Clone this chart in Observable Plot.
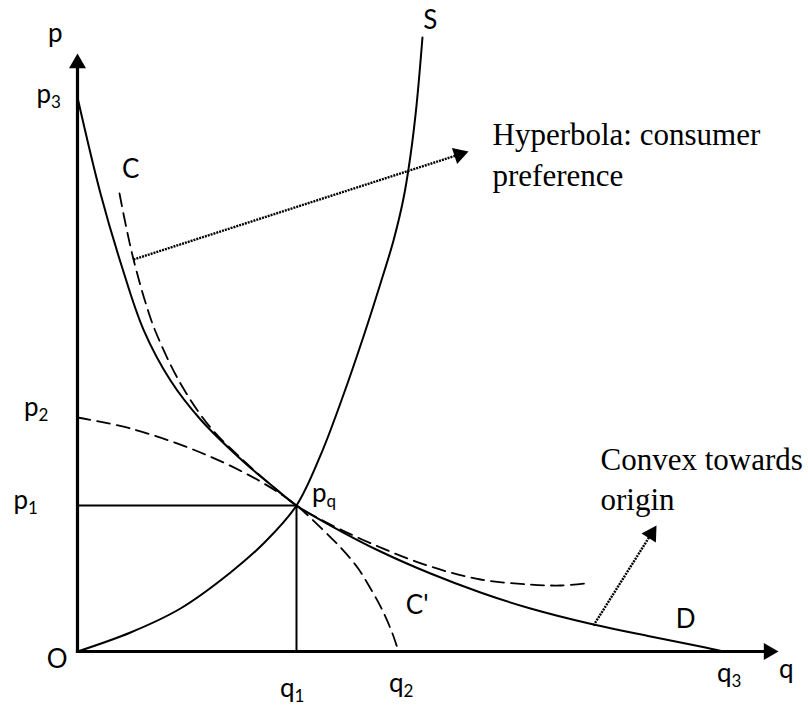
<!DOCTYPE html>
<html><head><meta charset="utf-8">
<script src="https://cdn.jsdelivr.net/npm/d3@7"></script>
<script src="https://cdn.jsdelivr.net/npm/@observablehq/plot@0.6"></script>
<style>body{margin:0;background:#fff}</style>
</head><body><div id="chart"></div>
<script>
// ---- data (q, p) in axis units: q and p both run 0..100 up to the arrow tips ----
const demandD = [[0,92.64],[3.28,76.59],[6.28,64.55],[9.41,53.84],[13.27,45.32],[17.55,38.8],[23.97,31.44],[27.53,27.93],[31.24,24.41],[36.09,21.07],[43.22,16.72],[50.36,13.04],[57.49,9.87],[64.62,7.19],[73.61,4.51],[81.74,2.51],[88.87,0.84],[92.15,0]];
const supplyS = [[0,0],[7.56,3.18],[14.69,7.19],[21.83,13.21],[26.82,18.39],[31.24,24.41],[34.66,32.78],[37.8,42.47],[40.94,53.18],[43.22,61.54],[45.08,68.73],[46.5,75.75],[47.5,82.94],[48.36,91.3],[49.21,102.67]];
const hyperbolaC = [[5.99,76.59],[6.99,70.73],[7.99,65.55],[9.7,58.36],[11.13,53.51],[14.69,44.82],[18.97,37.46],[23.97,31.61],[27.53,27.93],[31.24,24.41],[36.09,21.24],[43.22,17.39],[50.36,14.21],[57.49,12.04],[64.62,11.2],[68.9,11.04],[72.47,11.37]];
const curveC2 = [[0,39.13],[7.56,37.29],[17.55,33.28],[26.11,28.43],[31.24,24.41],[34.66,20.74],[37.52,17.39],[39.94,14.05],[41.8,10.54],[43.51,6.86],[44.93,3.01],[45.79,0]];
const equilibrium = [31.24, 24.41];            // (q1, p1)
const axisTips = [[100,0],[0,100]];           // q axis, p axis
const arrowStarts = [[7.99,65.55],[73.61,4.35]];
const arrowEnds = [[55.78,83.61],[82.60,21.07]];

const labelBase = ["p","p","p","p","p","q","q","q","q","O","C","S","C'","D"];
const labelSub  = ["","3","2","1","q","1","2","3","","","","","",""];
const labelQ = [-2.14,-3.78,-5.56,-7.06,35.52,30.96,46.50,93.29,102.14,-1.43,8.84,51.35,50.07,88.16];
const labelP = [101.84,91.80,39.46,23.75,25.08,-7.69,-6.69,-5.18,-4.35,-2.68,79.26,104.18,6.35,4.01];

const noteTexts = ["Hyperbola: consumer\npreference", "Convex towards\norigin"];
const noteQ = [59.20, 74.61];
const noteP = [77.92, 23.58];

// ---- layout ----
const W = 808, H = 706, mL = 77, mR = 30, mT = 53, mB = 55;
const kx = (W - mL - mR) / 100, ky = (H - mT - mB) / 100;
const headR = 6.3;
const headArea = Math.PI * headR * headR;
const headSide = Math.sqrt(4 * headArea / Math.sqrt(3));
const tipDist = (headSide * Math.sqrt(3) / 2) * 2 / 3;

function arrowHead(from, to) {
  const px = (to[0] - from[0]) * kx, py = -(to[1] - from[1]) * ky;
  const len = Math.hypot(px, py), ux = px / len, uy = py / len;
  return {
    q: to[0] - tipDist * ux / kx,
    p: to[1] + tipDist * uy / ky,
    angle: Math.atan2(ux, -uy) * 180 / Math.PI
  };
}

const axisHeads = axisTips.map(t => arrowHead([0,0], t));
const noteHeads = arrowEnds.map((e, i) => arrowHead(arrowStarts[i], e));
const axisLinks = axisHeads.map(h => ({q1: 0, p1: 0, q2: h.q, p2: h.p}));
const noteLinks = noteHeads.map((h, i) => ({q1: arrowStarts[i][0], p1: arrowStarts[i][1], q2: h.q, p2: h.p}));
const eqLinks = [
  {q1: 0, p1: equilibrium[1], q2: equilibrium[0], p2: equilibrium[1]},
  {q1: equilibrium[0], p1: 0, q2: equilibrium[0], p2: equilibrium[1]}
];
const labels = labelBase.map((b, i) => ({base: b, sub: labelSub[i], q: labelQ[i], p: labelP[i]}));
const notes = noteTexts.map((t, i) => ({text: t, q: noteQ[i], p: noteP[i]}));

const sans = "Lato, 'Open Sans', sans-serif";
const serif = "'Liberation Serif', 'Times New Roman', serif";

const chart = Plot.plot({
  width: W, height: H,
  marginLeft: mL, marginRight: mR, marginTop: mT, marginBottom: mB,
  x: {domain: [0, 100], axis: null},
  y: {domain: [0, 100], axis: null},
  style: {background: "white", overflow: "visible"},
  marks: [
    // curves
    Plot.line(curveC2, {x: d => d[0], y: d => d[1], curve: "catmull-rom", stroke: "black", strokeWidth: 1.8, strokeDasharray: "13,7"}),
    Plot.line(hyperbolaC, {x: d => d[0], y: d => d[1], curve: "catmull-rom", stroke: "black", strokeWidth: 1.8, strokeDasharray: "13,7"}),
    Plot.line(demandD, {x: d => d[0], y: d => d[1], curve: "catmull-rom", stroke: "black", strokeWidth: 2}),
    Plot.line(supplyS, {x: d => d[0], y: d => d[1], curve: "catmull-rom", stroke: "black", strokeWidth: 2}),
    // equilibrium guides
    Plot.link(eqLinks, {x1: "q1", y1: "p1", x2: "q2", y2: "p2", stroke: "black", strokeWidth: 2}),
    // axes
    Plot.link(axisLinks, {x1: "q1", y1: "p1", x2: "q2", y2: "p2", stroke: "black", strokeWidth: 3.2, strokeLinecap: "square"}),
    Plot.dot(axisHeads, {x: "q", y: "p", rotate: "angle", symbol: "triangle", r: headR, fill: "black", stroke: "none"}),
    // annotation arrows
    Plot.link(noteLinks, {x1: "q1", y1: "p1", x2: "q2", y2: "p2", stroke: "black", strokeWidth: 2.4, strokeDasharray: "2,1"}),
    Plot.dot(noteHeads, {x: "q", y: "p", rotate: "angle", symbol: "triangle", r: headR, fill: "black", stroke: "none"}),
    // labels
    Plot.text(labels, {x: "q", y: "p", text: "base", textAnchor: "end", lineAnchor: "bottom", fontSize: 26, fontFamily: sans, fill: "black"}),
    Plot.text(labels, {x: "q", y: "p", text: "sub", textAnchor: "start", lineAnchor: "bottom", dy: 5, fontSize: 17, fontFamily: sans, fill: "black"}),
    Plot.text(notes, {x: "q", y: "p", text: "text", textAnchor: "start", lineAnchor: "bottom", lineHeight: 1.32, fontSize: 31, fontFamily: serif, fill: "black"})
  ]
});
document.getElementById("chart").appendChild(chart);
</script>
</body></html>
